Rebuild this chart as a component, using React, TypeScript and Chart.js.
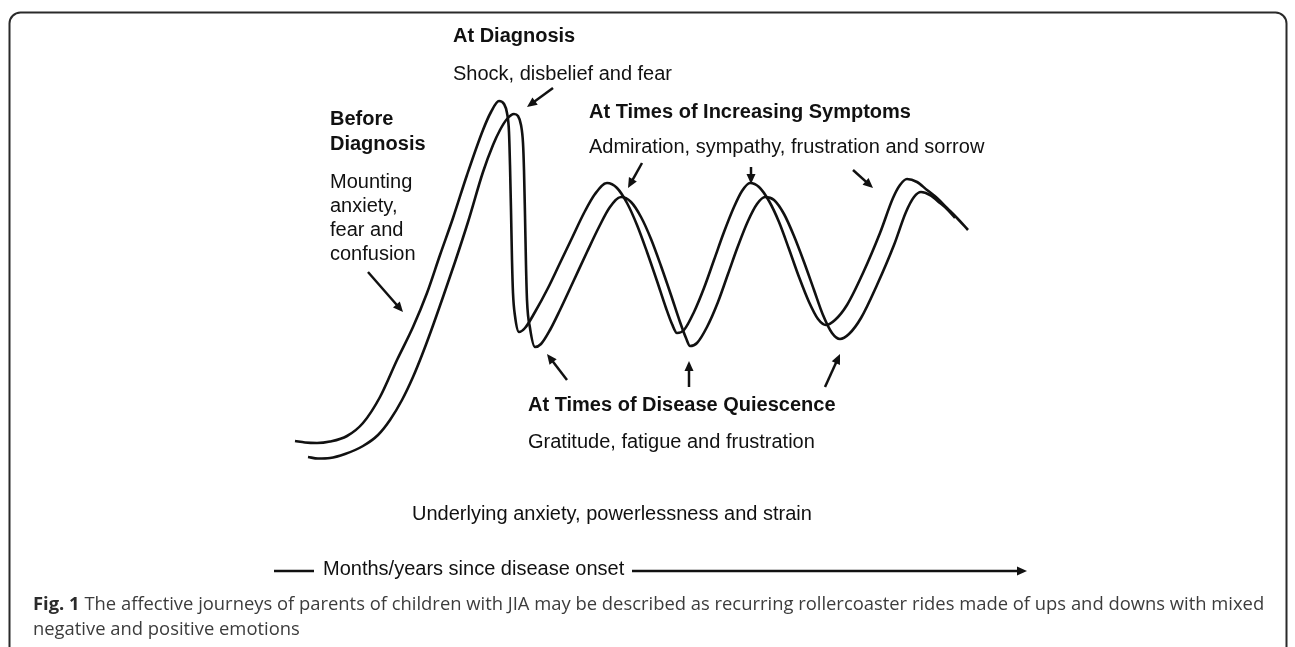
import React, { useEffect, useRef } from "react";
import { Chart, registerables } from "chart.js";

Chart.register(...registerables);

// Time (horizontal position) and emotional level (vertical position, drawn downward)
const frontCurveX = [295,305,317,330,347,363,380,397,413,427,440,453,467,483,491,499,504,507,509,510,511,512,513,515,519,525,535,548,560,572,584,595,607,617,627,637,647,657,666,672,677,684,694,704,714,724,734,742,750,759,769,779,789,799,809,818,826,835,847,863,880,893,900,907,917,927,937,947,957,968];
const frontCurveY = [441,442.5,443,441.5,436,423,397,360,327,293,255,218,175,130,112,101,104,113,132,165,210,260,293,316,332,328,312,288,263,238,213,194,183,188,203,225,252,281,308,324,333,330,312,288,260,232,207,191,183,187,201,222,249,277,302,319,325,320,305,273,233,198,185,179,182,190,198,208,218,230];

const backCurveX = [308,318,330,345,363,378,390,402,413,422,431,443,455,468,483,493,500,507,514,518,521,523,524,525,526,527,530,535,541,550,560,574,587,599,610,621,631,641,651,661,671,680,686,690,697,707,718,728,738,748,757,765,774,784,794,804,814,823,832,840,849,861,877,894,906,914,921,930,940,948,955];
const backCurveY = [457,458.5,458,454,446,435,420,400,377,355,331,297,262,222,172,145,130,119,114,116,125,143,170,215,265,300,328,347,344,330,310,280,252,227,207,197,202,217,239,266,295,322,338,346,343,327,302,274,246,221,204,197,200,214,236,262,290,315,333,339,334,318,285,245,212,197,192,195,203,210,218];

// Annotation texts
const labelTexts = [
  "At Diagnosis",
  "Shock, disbelief and fear",
  "Before",
  "Diagnosis",
  "Mounting",
  "anxiety,",
  "fear and",
  "confusion",
  "At Times of Increasing Symptoms",
  "Admiration, sympathy, frustration and sorrow",
  "At Times of Disease Quiescence",
  "Gratitude, fatigue and frustration",
  "Underlying anxiety, powerlessness and strain",
  "Months/years since disease onset",
];
const labelBold = [true, false, true, true, false, false, false, false, true, false, true, false, false, false];
const labelX = [453, 453, 330, 330, 330, 330, 330, 330, 589, 589, 528, 528, 412, 323];
const labelY = [42, 80, 125, 150, 188, 212, 236, 260, 118, 153, 411, 448, 520, 575];

// Arrows: start and tip
const arrowFromX = [553, 368, 642, 751, 853, 567, 689, 825, 632];
const arrowFromY = [88, 272, 163, 167, 170, 380, 387, 387, 571];
const arrowToX = [527, 403, 628, 751, 873, 547, 689, 840, 1027];
const arrowToY = [107, 312, 188, 184, 188, 354, 361, 354, 571];

// Plain dash left of the time label
const dashX = [274, 314];
const dashY = [571, 571];

const captionBold = "Fig. 1";
const captionLine1 = "The affective journeys of parents of children with JIA may be described as recurring rollercoaster rides made of ups and downs with mixed";
const captionLine2 = "negative and positive emotions";

const toPoints = (xs: number[], ys: number[]) => xs.map((x, i) => ({ x, y: ys[i] }));

const INK = "#111111";
const DIAGRAM_FONT = '"Liberation Sans", Arial, sans-serif';

const figurePlugin = {
  id: "figureDecor",
  beforeDraw(chart: any) {
    const ctx = chart.ctx;
    ctx.save();
    ctx.fillStyle = "#ffffff";
    ctx.fillRect(0, 0, chart.width, chart.height);
    ctx.strokeStyle = "#2a2a2a";
    ctx.lineWidth = 2;
    ctx.beginPath();
    ctx.roundRect(9.5, 12.5, 1277, 700, 11);
    ctx.stroke();
    ctx.restore();
  },
  afterDatasetsDraw(chart: any) {
    const ctx = chart.ctx;
    const xs = chart.scales.x;
    const ys = chart.scales.y;
    const px = (v: number) => xs.getPixelForValue(v);
    const py = (v: number) => ys.getPixelForValue(v);
    ctx.save();
    // labels
    ctx.fillStyle = INK;
    ctx.textBaseline = "alphabetic";
    ctx.textAlign = "left";
    labelTexts.forEach((t, i) => {
      ctx.font = `${labelBold[i] ? "bold " : ""}20px ${DIAGRAM_FONT}`;
      ctx.fillText(t, px(labelX[i]), py(labelY[i]));
    });
    // arrows
    ctx.strokeStyle = INK;
    ctx.lineWidth = 2.5;
    ctx.lineCap = "butt";
    arrowFromX.forEach((_, i) => {
      const x1 = px(arrowFromX[i]);
      const y1 = py(arrowFromY[i]);
      const x2 = px(arrowToX[i]);
      const y2 = py(arrowToY[i]);
      const ang = Math.atan2(y2 - y1, x2 - x1);
      const headLen = 10;
      const headHalf = 4.5;
      const bx = x2 - headLen * Math.cos(ang);
      const by = y2 - headLen * Math.sin(ang);
      ctx.beginPath();
      ctx.moveTo(x1, y1);
      ctx.lineTo(bx + 2 * Math.cos(ang), by + 2 * Math.sin(ang));
      ctx.stroke();
      ctx.beginPath();
      ctx.moveTo(x2, y2);
      ctx.lineTo(bx + headHalf * Math.sin(ang), by - headHalf * Math.cos(ang));
      ctx.lineTo(bx - headHalf * Math.sin(ang), by + headHalf * Math.cos(ang));
      ctx.closePath();
      ctx.fillStyle = INK;
      ctx.fill();
    });
    ctx.beginPath();
    ctx.moveTo(px(dashX[0]), py(dashY[0]));
    ctx.lineTo(px(dashX[1]), py(dashY[1]));
    ctx.stroke();
    // caption
    const capFont = '"Open Sans", "Noto Sans", sans-serif';
    ctx.font = `bold 18.4px ${capFont}`;
    ctx.fillStyle = "#2b2b2b";
    ctx.fillText(captionBold, 33, 610);
    const bw = ctx.measureText(captionBold + " ").width;
    ctx.font = `18.4px ${capFont}`;
    ctx.fillStyle = "#3c3c3c";
    ctx.fillText(captionLine1, 33 + bw, 610);
    ctx.fillText(captionLine2, 33, 635);
    ctx.restore();
  },
};

export default function App() {
  const canvasRef = useRef<HTMLCanvasElement | null>(null);

  useEffect(() => {
    if (!canvasRef.current) return;
    const lineStyle = {
      borderColor: INK,
      borderWidth: 2.6,
      pointRadius: 0,
      pointHoverRadius: 0,
      fill: false,
      cubicInterpolationMode: "monotone" as const,
    };
    const chart = new Chart(canvasRef.current, {
      type: "line",
      data: {
        datasets: [
          { label: "Journey (front)", data: toPoints(frontCurveX, frontCurveY), ...lineStyle },
          { label: "Journey (back)", data: toPoints(backCurveX, backCurveY), ...lineStyle },
        ],
      },
      options: {
        animation: false,
        responsive: false,
        devicePixelRatio: 1,
        layout: { padding: 0 },
        plugins: { legend: { display: false }, tooltip: { enabled: false } },
        events: [],
        scales: {
          x: { type: "linear", min: 0, max: 1295, display: false },
          y: { type: "linear", min: 0, max: 647, reverse: true, display: false },
        },
      },
      plugins: [figurePlugin],
    });
    return () => chart.destroy();
  }, []);

  return (
    <div style={{ position: "fixed", left: 0, top: 0, width: 1295, height: 647, background: "#fff" }}>
      <canvas ref={canvasRef} width={1295} height={647} style={{ width: 1295, height: 647, display: "block" }} />
    </div>
  );
}
